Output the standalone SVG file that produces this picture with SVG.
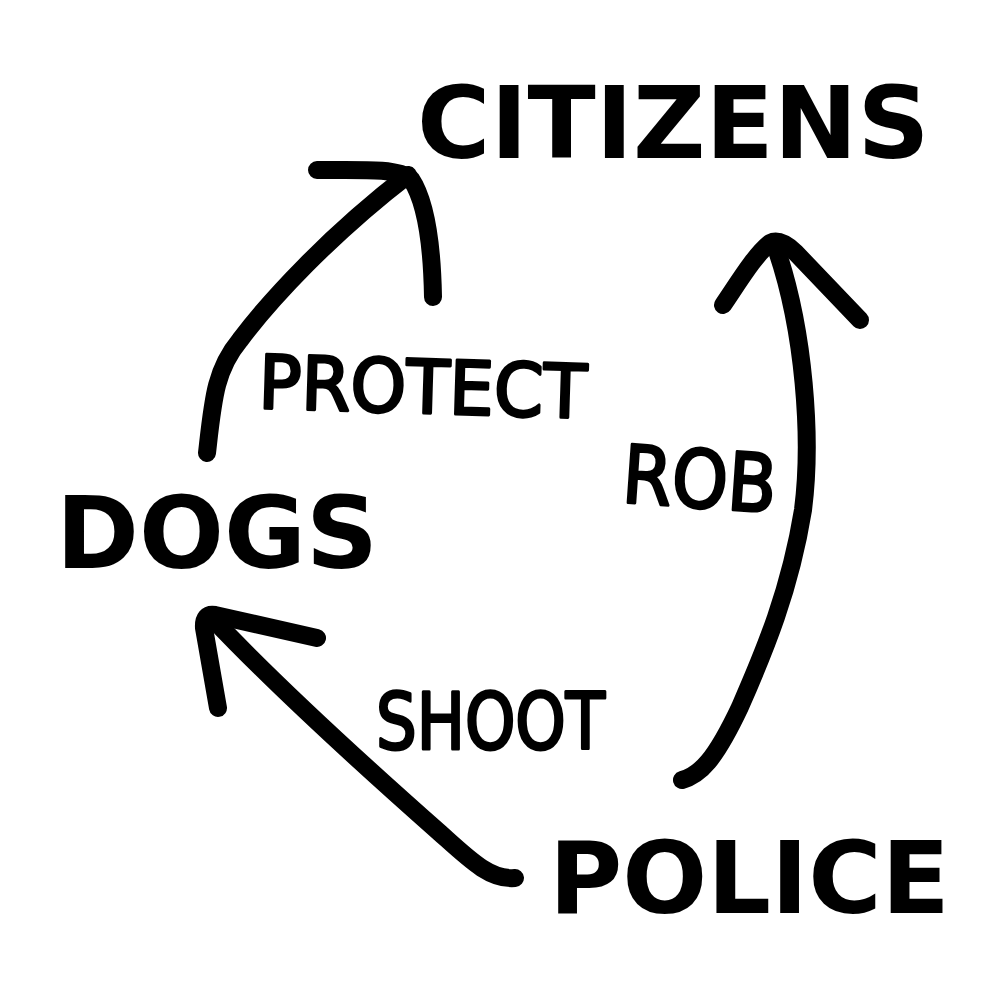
<svg xmlns="http://www.w3.org/2000/svg" width="1000" height="1000" viewBox="0 0 1000 1000">
<style>
.node{font-family:"DejaVu Sans","Liberation Sans",sans-serif;font-weight:bold;font-size:100px;fill:#000}
.hand{font-family:"DejaVu Sans","Liberation Sans",sans-serif;font-weight:normal;fill:#000;stroke:#000;stroke-width:3;stroke-linejoin:round}
.stroke{fill:none;stroke:#000;stroke-width:18;stroke-linecap:round;stroke-linejoin:round}
</style>
<rect width="1000" height="1000" fill="#fff"/>
<g id="citizens"><text class="node" x="417" y="158">CITIZENS</text></g>
<g id="dogs"><text class="node" x="56" y="568" font-size="98">DOGS</text></g>
<g id="police"><text class="node" x="549" y="913">POLICE</text></g>
<g id="connectors">
  <g id="protect">
    <path class="stroke" d="M207,453 C213,400 215,370 240,340 C270,300 330,235 408,175"/>
    <path class="stroke" d="M317,170 C360,170 398,168 411,179 C425,200 432,240 433,297"/>
    <text class="hand" x="258" y="408" font-size="74" textLength="328" lengthAdjust="spacingAndGlyphs" transform="rotate(1.75 258 408)">PROTECT</text>
  </g>
  <g id="rob">
    <path class="stroke" d="M682,780 C700,775 715,760 740,707 C765,650 790,590 803,510 C812,440 805,330 775,245"/>
    <path class="stroke" d="M723,305 C740,280 755,255 770,243 Q780,238 795,252 L860,320"/>
    <text class="hand" x="621" y="502" font-size="80" textLength="154" lengthAdjust="spacingAndGlyphs" transform="rotate(4 621 502)">ROB</text>
  </g>
  <g id="shoot">
    <path class="stroke" d="M515,878 C490,880 470,860 440,833 C380,780 280,690 212,618"/>
    <path class="stroke" d="M317,638 L215,615 Q203,613 204,628 L218,708"/>
    <text class="hand" x="376" y="749" font-size="78" textLength="229" lengthAdjust="spacingAndGlyphs">SHOOT</text>
  </g>
</g>
</svg>
